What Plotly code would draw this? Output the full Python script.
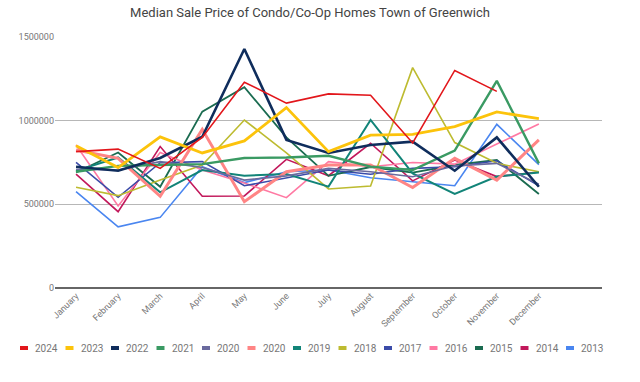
import plotly.graph_objects as go

months = ["January", "February", "March", "April", "May", "June", "July",
          "August", "September", "October", "November", "December"]

series_names = ["2024", "2023", "2022", "2021", "2020", "2020", "2019",
                "2018", "2017", "2016", "2015", "2014", "2013"]

y2024 = [815000, 830000, 715000, 900000, 1230000, 1105000, 1160000, 1152000, 867000, 1300000, 1175000, None]
y2023 = [850000, 720000, 903000, 807000, 879000, 1078000, 815000, 913000, 918000, 964000, 1052000, 1012000]
y2022 = [725000, 701000, 777000, 904000, 1428000, 885000, 807000, 855000, 875000, 701000, 900000, 605000]
y2021 = [695000, 730000, 735000, 740000, 777000, 780000, 790000, 725000, 705000, 821000, 1238000, 745000]
y2020a = [710000, 705000, 755000, 720000, 645000, 670000, 715000, 695000, 665000, 730000, 745000, 620000]
y2020b = [825000, 775000, 548000, 948000, 516000, 695000, 735000, 735000, 600000, 775000, 645000, 885000]
y2019 = [700000, 780000, 572000, 705000, 671000, 681000, 606000, 1004000, 685000, 562000, 666000, 690000]
y2018 = [602000, 552000, 645000, 735000, 1004000, 807000, 592000, 610000, 1317000, 869000, 745000, 695000]
y2017 = [751000, 542000, 749000, 755000, 611000, 656000, 705000, 680000, 715000, 725000, 760000, 610000]
y2016 = [855000, 490000, 810000, 705000, 627000, 540000, 755000, 725000, 750000, 740000, 860000, 980000]
y2015 = [690000, 810000, 605000, 1054000, 1200000, 900000, 670000, 723000, 690000, 735000, 765000, 562000]
y2014 = [681000, 456000, 845000, 548000, 550000, 769000, 671000, 865000, 640000, 765000, 666000, 693000]
y2013 = [576000, 366000, 422000, 725000, 630000, 695000, 705000, 659000, 635000, 611000, 978000, 737000]

series_values = [y2024, y2023, y2022, y2021, y2020a, y2020b, y2019,
                 y2018, y2017, y2016, y2015, y2014, y2013]

colors = ["#e2161b", "#fcc30b", "#0f2d5c", "#3a9a63", "#6a6a9e", "#ff8585", "#128478",
          "#bdbb30", "#3b4ba8", "#ff79a3", "#1a6b50", "#c2185b", "#4a86f0"]
widths = [1.6, 2.8, 2.6, 2.4, 1.6, 3.0, 2.0, 1.6, 1.6, 1.6, 1.8, 1.6, 1.6]

y_ticks = [0, 500000, 1000000, 1500000]
y_ticktext = ["0", "500000", "1000000", "1500000"]

x_idx = list(range(len(months)))

fig = go.Figure()
for name, vals, col, w in reversed(list(zip(series_names, series_values, colors, widths))):
    fig.add_trace(go.Scatter(x=x_idx, y=vals, mode="lines", name=name,
                             line=dict(color=col, width=w), showlegend=False,
                             connectgaps=False, hoverinfo="skip"))

# Custom single-row legend (plot area: x 55..602 px, y 37..288 px)
L, R, T, B = 55, 602, 37, 288
pw, ph = R - L, B - T
def px_x(px):
    return (px - L) / pw
def px_y(py):
    return (B - py) / ph

shapes = []
annotations = []
for i, (name, col) in enumerate(zip(series_names, colors)):
    x0 = 20 + 45.5 * i
    shapes.append(dict(type="rect", xref="paper", yref="paper",
                       x0=px_x(x0), x1=px_x(x0 + 8),
                       y0=px_y(350), y1=px_y(346),
                       fillcolor=col, line=dict(width=0)))
    annotations.append(dict(xref="paper", yref="paper", x=px_x(x0 + 13), y=px_y(348),
                            text=name, showarrow=False, xanchor="left", yanchor="middle",
                            font=dict(family="Roboto", size=10, color="#777777")))

fig.update_layout(
    width=640, height=382,
    margin=dict(l=L, r=640 - R, t=T, b=382 - B),
    paper_bgcolor="white", plot_bgcolor="white",
    title=dict(text="Median Sale Price of Condo/Co-Op Homes Town of Greenwich",
               x=310 / 640, xanchor="center", y=1 - 12 / 382, yanchor="middle",
               font=dict(family="Roboto", size=13, color="#444444")),
    xaxis=dict(range=[-0.5, 12.5], tickvals=x_idx, ticktext=months, tickangle=-45,
               showgrid=False, zeroline=False, showline=False, ticks="",
               tickfont=dict(family="Roboto", size=9, color="#777777")),
    yaxis=dict(range=[0, 1500000], tickvals=y_ticks, ticktext=y_ticktext,
               showgrid=True, gridcolor="#b7b7b7", gridwidth=1.2,
               zeroline=True, zerolinecolor="#666666", zerolinewidth=1.5,
               showline=False, ticks="",
               tickfont=dict(family="Roboto", size=9, color="#777777")),
    shapes=shapes, annotations=annotations,
    showlegend=False,
)

fig.write_html("out.html", config={"displayModeBar": False},
               post_script="document.body.style.margin='0';document.body.style.padding='0';")
